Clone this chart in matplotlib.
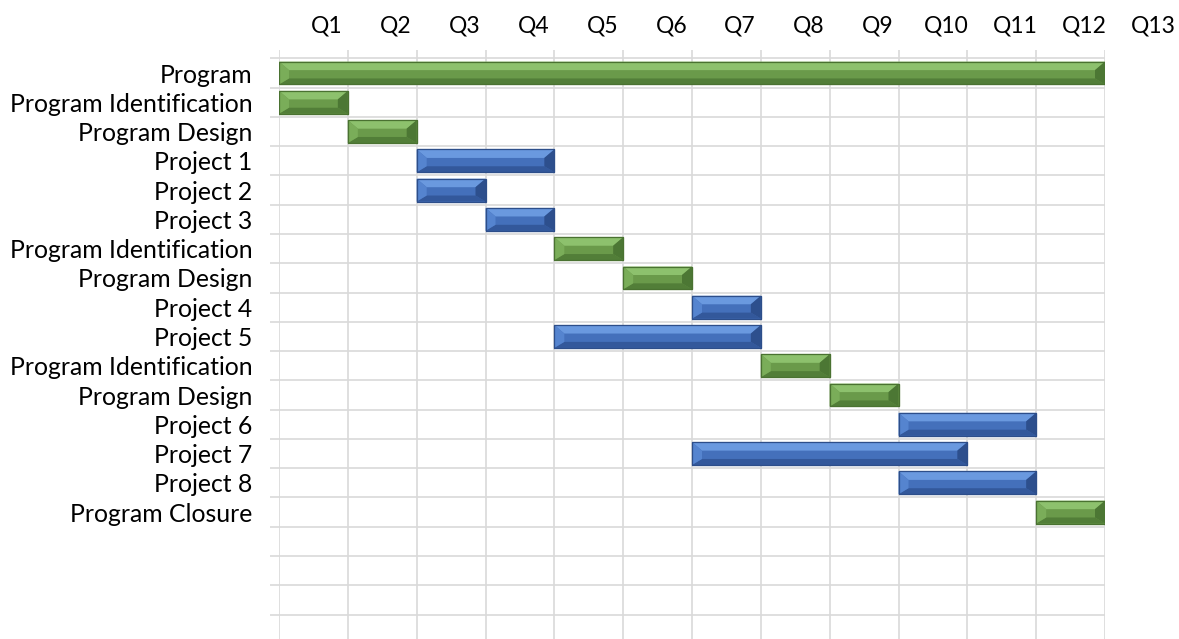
import matplotlib
matplotlib.use("Agg")
import matplotlib.pyplot as plt
from matplotlib.patches import Polygon

tasks = ["Program", "Program Identification", "Program Design", "Project 1", "Project 2",
         "Project 3", "Program Identification", "Program Design", "Project 4", "Project 5",
         "Program Identification", "Program Design", "Project 6", "Project 7", "Project 8",
         "Program Closure"]
starts = [0, 0, 1, 2, 2, 3, 4, 5, 6, 4, 7, 8, 9, 6, 9, 11]
durations = [12, 1, 1, 2, 1, 1, 1, 1, 1, 3, 1, 1, 2, 4, 2, 1]
kinds = ["program", "program", "program", "project", "project", "project", "program", "program",
         "project", "project", "program", "program", "project", "project", "project", "program"]
quarters = ["Q%d" % i for i in range(1, 14)]

palette = {
    "program": dict(mid="#6a9a4a", top="#8dc16d", bottom="#527e38", left="#7aad59",
                    right="#4c7734", edge="#4a7231"),
    "project": dict(mid="#4470bb", top="#6a99df", bottom="#33589b", left="#5584cf",
                    right="#2d4f8d", edge="#2d4e8a"),
}

plt.rcParams['font.family'] = ['Lato', 'DejaVu Sans']
fig = plt.figure(figsize=(11.79, 6.39), dpi=100)
W, H = 1179, 639
ax = fig.add_axes([279 / W, 0, 826 / W, 1 - 50 / H])

row_px = 29.27
ax.set_xlim(0, 12)
top_lim = -0.5 - 8.4 / row_px
bot_lim = top_lim + 589 / row_px
ax.set_ylim(bot_lim, top_lim)

for s in ax.spines.values():
    s.set_visible(False)

grid_c = "#d9d9d9"
ax.set_xticks(range(0, 13))
ax.tick_params(axis='x', length=0, labelbottom=False)
ax.xaxis.grid(True, color=grid_c, linewidth=1.2)
bounds = [i - 0.5 for i in range(0, 20)]
ax.set_yticks(bounds)
ax.set_yticklabels([])
ax.tick_params(axis='y', which='major', length=6.5, width=1.2, color=grid_c)
ax.yaxis.grid(True, which='major', color=grid_c, linewidth=1.2)
ax.set_yticks(range(len(tasks)), minor=True)
ax.set_yticklabels(tasks, minor=True, fontsize=17.8)
ax.tick_params(axis='y', which='minor', length=0, pad=19)
ax.set_axisbelow(True)

xt = ax.get_xaxis_transform()
for i, q in enumerate(quarters):
    ax.text(i + 0.7, 1 + 24 / 589, q, transform=xt, ha='center', va='center',
            fontsize=16.5, clip_on=False)

# bevelled bars
bar_h = 0.78
p0 = ax.transData.transform((0, 0))
p1 = ax.transData.transform((1, 1))
ux = abs(p1[0] - p0[0])
uy = abs(p1[1] - p0[1])
bx = 10 / ux
bt = 8.5 / uy
bb = 6 / uy

for i, (s, d, k) in enumerate(zip(starts, durations, kinds)):
    c = palette[k]
    y0 = i - bar_h / 2  # top (inverted axis)
    y1 = i + bar_h / 2
    x0, x1 = s, s + d
    ax.barh(i, d, left=s, height=bar_h, color=c["mid"], edgecolor=c["edge"], linewidth=0.8, zorder=3)
    polys = [
        ([(x0, y0), (x1, y0), (x1 - bx, y0 + bt), (x0 + bx, y0 + bt)], c["top"]),
        ([(x0, y1), (x1, y1), (x1 - bx, y1 - bb), (x0 + bx, y1 - bb)], c["bottom"]),
        ([(x0, y0), (x0 + bx, y0 + bt), (x0 + bx, y1 - bb), (x0, y1)], c["left"]),
        ([(x1, y0), (x1 - bx, y0 + bt), (x1 - bx, y1 - bb), (x1, y1)], c["right"]),
    ]
    for pts, col in polys:
        ax.add_patch(Polygon(pts, closed=True, facecolor=col, edgecolor='none', zorder=4))
    ax.add_patch(Polygon([(x0, y0), (x1, y0), (x1, y1), (x0, y1)], closed=True,
                         facecolor='none', edgecolor=c["edge"], linewidth=0.9, zorder=5))

fig.savefig("out.png", dpi=100)
